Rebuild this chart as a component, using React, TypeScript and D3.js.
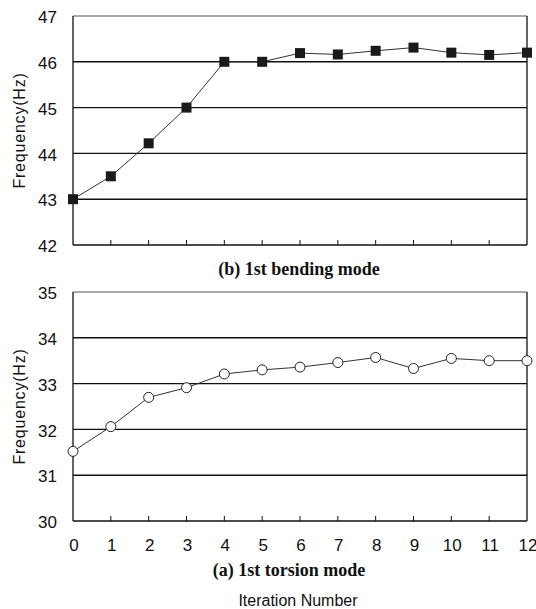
import * as d3 from "d3";
import { useEffect, useRef } from "react";

const iterations = [0, 1, 2, 3, 4, 5, 6, 7, 8, 9, 10, 11, 12];
const bendingFreq = [43.0, 43.5, 44.22, 45.0, 46.0, 46.0, 46.19, 46.16, 46.24, 46.31, 46.2, 46.15, 46.2];
const torsionFreq = [31.52, 32.06, 32.7, 32.91, 33.21, 33.3, 33.36, 33.46, 33.57, 33.33, 33.55, 33.5, 33.5];
const bendingTicks = [42, 43, 44, 45, 46, 47];
const torsionTicks = [30, 31, 32, 33, 34, 35];

const W = 536;
const H = 609;
const sans = "Arial, 'Liberation Sans', sans-serif";
const serif = "'Times New Roman', 'Liberation Serif', serif";

const panel = (svg, opts) => {
    const { top, bottom, ticks, values, marker, caption, captionX, captionY, showX } = opts;
    const left = 73;
    const right = 527;
    const x = d3.scaleLinear().domain([0, 12]).range([left, right]);
    const y = d3
        .scaleLinear()
        .domain([ticks[0], ticks[ticks.length - 1]])
        .range([bottom, top]);

    const g = svg.append("g");

    // grid lines
    g.append("g")
        .selectAll("line")
        .data(ticks.slice(1, -1))
        .join("line")
        .attr("x1", left)
        .attr("x2", right)
        .attr("y1", (d) => y(d))
        .attr("y2", (d) => y(d))
        .attr("stroke", "#111")
        .attr("stroke-width", 1.4);

    // frame
    g.append("line")
        .attr("x1", left)
        .attr("x2", right)
        .attr("y1", top)
        .attr("y2", top)
        .attr("stroke", "#555")
        .attr("stroke-width", 1);
    g.append("line")
        .attr("x1", right)
        .attr("x2", right)
        .attr("y1", top)
        .attr("y2", bottom)
        .attr("stroke", "#111")
        .attr("stroke-width", 1.3);
    g.append("line")
        .attr("x1", left)
        .attr("x2", left)
        .attr("y1", top)
        .attr("y2", bottom)
        .attr("stroke", "#111")
        .attr("stroke-width", 1.3);
    g.append("line")
        .attr("x1", left)
        .attr("x2", right)
        .attr("y1", bottom)
        .attr("y2", bottom)
        .attr("stroke", "#111")
        .attr("stroke-width", 1.3);

    // x ticks (inward)
    g.append("g")
        .selectAll("line")
        .data(iterations.slice(1, -1))
        .join("line")
        .attr("x1", (d) => x(d))
        .attr("x2", (d) => x(d))
        .attr("y1", bottom)
        .attr("y2", bottom - 5)
        .attr("stroke", "#111")
        .attr("stroke-width", 1);

    // y tick labels
    g.append("g")
        .selectAll("text")
        .data(ticks)
        .join("text")
        .attr("x", 57)
        .attr("y", (d) => y(d) + 1)
        .attr("dy", "0.36em")
        .attr("text-anchor", "end")
        .attr("font-family", sans)
        .attr("font-size", 17)
        .attr("fill", "#111")
        .text((d) => d);

    // y axis title
    g.append("text")
        .attr("transform", `translate(25,${(top + bottom) / 2}) rotate(-90)`)
        .attr("text-anchor", "middle")
        .attr("font-family", sans)
        .attr("font-size", 16)
        .attr("letter-spacing", 0.8)
        .attr("fill", "#111")
        .text("Frequency(Hz)");

    if (showX) {
        g.append("g")
            .selectAll("text")
            .data(iterations)
            .join("text")
            .attr("x", (d) => x(d) + 1)
            .attr("y", bottom + 30)
            .attr("text-anchor", "middle")
            .attr("font-family", sans)
            .attr("font-size", 17)
            .attr("fill", "#111")
            .text((d) => d);
    }

    // line
    const line = d3
        .line()
        .x((d, i) => x(iterations[i]))
        .y((d) => y(d));
    g.append("path")
        .datum(values)
        .attr("d", line)
        .attr("fill", "none")
        .attr("stroke", "#333")
        .attr("stroke-width", 1);

    if (marker === "square") {
        g.append("g")
            .selectAll("rect")
            .data(values)
            .join("rect")
            .attr("x", (d, i) => x(iterations[i]) - 5)
            .attr("y", (d) => y(d) - 5)
            .attr("width", 10)
            .attr("height", 10)
            .attr("fill", "#1a1a1a");
    } else {
        g.append("g")
            .selectAll("circle")
            .data(values)
            .join("circle")
            .attr("cx", (d, i) => x(iterations[i]))
            .attr("cy", (d) => y(d))
            .attr("r", 5)
            .attr("fill", "#fff")
            .attr("stroke", "#222")
            .attr("stroke-width", 1);
    }

    g.append("text")
        .attr("x", captionX)
        .attr("y", captionY)
        .attr("text-anchor", "middle")
        .attr("font-family", serif)
        .attr("font-weight", "bold")
        .attr("font-size", 18)
        .attr("fill", "#111")
        .text(caption);
};

const draw = (svgRef) => {
    const svg = d3.select(svgRef);
    svg.selectAll("*").remove();
    svg.append("rect").attr("width", W).attr("height", H).attr("fill", "#fff");

    panel(svg, {
        top: 16,
        bottom: 245,
        ticks: bendingTicks,
        values: bendingFreq,
        marker: "square",
        caption: "(b) 1st bending mode",
        captionX: 299,
        captionY: 275,
        showX: false,
    });
    panel(svg, {
        top: 292,
        bottom: 521,
        ticks: torsionTicks,
        values: torsionFreq,
        marker: "circle",
        caption: "(a) 1st torsion mode",
        captionX: 289,
        captionY: 576,
        showX: true,
    });

    svg.append("text")
        .attr("x", 298)
        .attr("y", 606)
        .attr("text-anchor", "middle")
        .attr("font-family", sans)
        .attr("font-size", 16)
        .attr("fill", "#111")
        .text("Iteration Number");
};

export default function App() {
    const svgRef = useRef(null);
    useEffect(() => {
        draw(svgRef.current);
    }, []);
    return (
        <div style={{ position: "absolute", left: 0, top: 0 }}>
            <svg ref={svgRef} width={W} height={H} style={{ display: "block" }}></svg>
        </div>
    );
}
